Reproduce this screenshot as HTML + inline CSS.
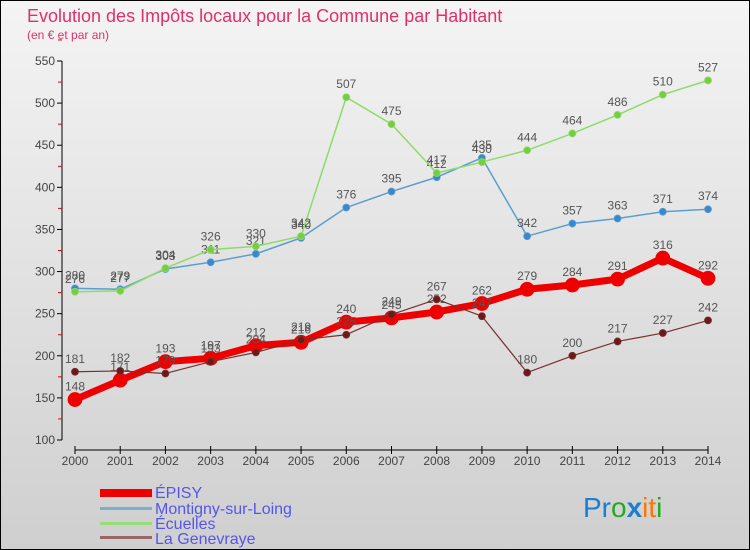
<!DOCTYPE html>
<html><head><meta charset="utf-8"><style>
body{margin:0}
#c{width:750px;height:550px;position:relative;overflow:hidden}
svg{position:absolute;left:0;top:0}
</style></head><body>
<div id="c">
<svg id="s" width="750" height="550" font-family="Liberation Sans, DejaVu Sans, sans-serif">
<defs><linearGradient id="bg" x1="0" y1="0" x2="0" y2="1"><stop offset="0" stop-color="#f4f4f4"/><stop offset="1" stop-color="#cfcfcf"/></linearGradient></defs>
<rect x="0.5" y="0.5" width="749" height="549" fill="url(#bg)" stroke="#000"/>
<text x="27" y="22" font-size="18" fill="#e0306a">Evolution des Impôts locaux pour la Commune par Habitant</text>
<text x="27" y="39" font-size="12" fill="#e0306a">(en € et par an)</text>
<g id="axes"></g><g id="plot"></g>
<g>
<rect x="100" y="489" width="52" height="8" fill="#ee0000"/>
<text x="155" y="498" font-size="16" fill="#5555ee">ÉPISY</text>
<rect x="100" y="507" width="52" height="3" fill="#7aaed0"/>
<text x="155" y="514" font-size="16" fill="#5555ee">Montigny-sur-Loing</text>
<rect x="100" y="522" width="52" height="3" fill="#99dd77"/>
<text x="155" y="529" font-size="16" fill="#5555ee">Écuelles</text>
<rect x="100" y="536" width="52" height="3" fill="#996666"/>
<text x="155" y="544" font-size="16" fill="#5555ee">La Genevraye</text>
</g>
<text x="583" y="517" font-size="28"><tspan fill="#1a7fd0">Pr</tspan><tspan fill="#22aa22">o</tspan><tspan fill="#1a7fd0" font-weight="bold">x</tspan><tspan fill="#ff7700">it</tspan><tspan fill="#22aa22">i</tspan></text>
</svg></div>
<script>
const years=[2000,2001,2002,2003,2004,2005,2006,2007,2008,2009,2010,2011,2012,2013,2014];
const episy=[148,171,193,197,212,216,240,245,252,262,279,284,291,316,292];
const montigny=[280,279,303,311,321,340,376,395,412,435,342,357,363,371,374];
const ecuelles=[276,277,304,326,330,342,507,475,417,430,444,464,486,510,527];
const genevraye=[181,182,179,193,204,219,225,249,267,247,180,200,217,227,242];
const yTicks=[100,150,200,250,300,350,400,450,500,550];
const NS='http://www.w3.org/2000/svg';
const X=i=>75+i*(708-75)/(years.length-1);
const Y=v=>440-(v-100)*(440-61)/450;
function mk(t,a,p){const e=document.createElementNS(NS,t);for(const k in a)e.setAttribute(k,a[k]);p.appendChild(e);return e;}
const ax=document.getElementById('axes'),pl=document.getElementById('plot');
let l=mk('line',{x1:62,y1:61,x2:62,y2:440,stroke:'#000'},ax);


yTicks.forEach(v=>{
 mk('line',{x1:57,x2:62,y1:Y(v),y2:Y(v),stroke:'#000'},ax);
 mk('line',{x1:58,x2:62,y1:Y(v+25),y2:Y(v+25),stroke:'#e00'},ax);
 const t=mk('text',{x:55,y:Y(v)+4,'font-size':12,'text-anchor':'end',fill:'#444'},ax);t.textContent=v;
 
 
});
l=mk('line',{x1:75,y1:450,x2:708,y2:450,stroke:'#000'},ax);


years.forEach((y,i)=>{
 mk('line',{x1:X(i),x2:X(i),y1:446,y2:454,stroke:'#000'},ax);
 const t=mk('text',{x:X(i),y:465,'font-size':12,'text-anchor':'middle',fill:'#444'},ax);t.textContent=y;
 
 
});
function series(d,name,col,w,r,mcol){
 const g=mk('g',{},pl);
 
 
 const p=mk('polyline',{points:d.map((v,i)=>X(i)+','+Y(v)).join(' '),fill:'none',stroke:col,'stroke-width':w,'stroke-linejoin':'round'},g);
 
 
 d.forEach((v,i)=>{
  const c=mk('circle',{cx:X(i),cy:Y(v),r:r,fill:mcol,stroke:col,'stroke-width':0.8},g);
  
  
  const t=mk('text',{x:X(i),y:Y(v)-9,'font-size':12,'text-anchor':'middle',fill:'#555'},g);t.textContent=v;
  
  
 });
}
series(montigny,'montigny','#5a9ed0',1.5,3.5,'#3a88cc');
series(ecuelles,'ecuelles','#8ddc66',1.5,3.5,'#77cc44');
series(episy,'episy','#ee0000',7,7,'#ee0000');
series(genevraye,'genevraye','#7a3030',1.2,3.5,'#6a1a1a');
</script>
</body></html>
